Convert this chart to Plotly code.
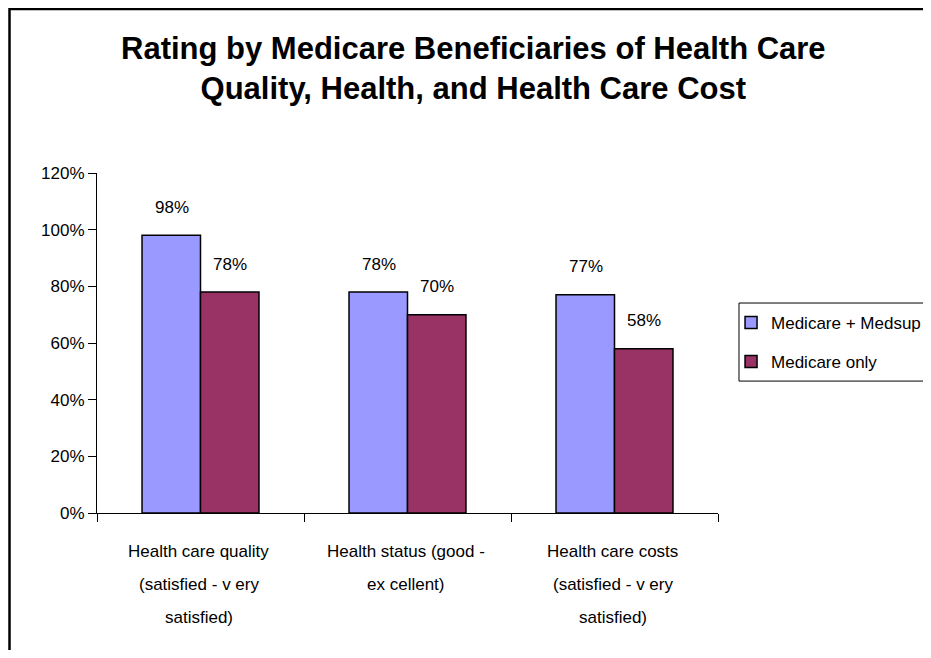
import plotly.graph_objects as go

categories = ["Health care quality", "Health status", "Health care costs"]
category_lines = [
    ["Health care quality", "(satisfied - v ery", "satisfied)"],
    ["Health status (good -", "ex cellent)"],
    ["Health care costs", "(satisfied - v ery", "satisfied)"],
]
series_names = ["Medicare + Medsup", "Medicare only"]
medsup_values = [0.98, 0.78, 0.77]
medicare_only_values = [0.78, 0.70, 0.58]
series_values = [medsup_values, medicare_only_values]
series_colors = ["#9999FF", "#993366"]
y_ticks = [0, 0.2, 0.4, 0.6, 0.8, 1.0, 1.2]
title_text = "Rating by Medicare Beneficiaries of Health Care<br>Quality, Health, and Health Care Cost"

FONT = "Arial, Liberation Sans, sans-serif"

fig = go.Figure()
for i, (name, vals, col) in enumerate(zip(series_names, series_values, series_colors)):
    fig.add_trace(go.Bar(
        x=categories, y=vals, name=name,
        marker=dict(color=col, line=dict(color="black", width=1.5)),
        legendgroup=f"g{i}",
    ))

annotations = []
# title
annotations.append(dict(
    x=0.6055, y=1.306, xref="paper", yref="paper", text=f"<b>{title_text}</b>",
    showarrow=False, xanchor="center", yanchor="middle", align="center",
    font=dict(family=FONT, size=31, color="black"),
))
# data labels
for i, vals in enumerate(series_values):
    shift = -29 if i == 0 else 29
    for c, v in zip(categories, vals):
        annotations.append(dict(
            x=c, y=v, xref="x", yref="y", text=f"{round(v*100):d}%",
            showarrow=False, xshift=shift, yshift=28, yanchor="middle",
            font=dict(family=FONT, size=17, color="black"),
        ))
# category labels (multi-line with wide spacing)
for c, lines in zip(categories, category_lines):
    for j, line in enumerate(lines):
        annotations.append(dict(
            x=c, y=0, xref="x", yref="y", text=line, showarrow=False,
            yshift=-38 - 33 * j, yanchor="middle", xshift=-2,
            font=dict(family=FONT, size=17, color="black"),
        ))

fig.update_layout(
    width=915, height=642,
    margin=dict(l=89, r=205, t=165, b=137, autoexpand=False),
    paper_bgcolor="white", plot_bgcolor="white",
    barmode="group", bargap=0.435, bargroupgap=0,
    showlegend=True,
    legend=dict(
        x=1.021, y=0.612, xanchor="left", yanchor="top", xref="paper", yref="paper",
        bgcolor="rgba(0,0,0,0)", borderwidth=0,
        font=dict(family=FONT, size=17, color="black"),
        traceorder="grouped", tracegroupgap=14,
    ),
    annotations=annotations,
    shapes=[
        # outer chart border
        dict(type="rect", xref="paper", yref="paper", x0=-0.1409, x1=1.6, y0=-0.6, y1=1.482,
             line=dict(color="black", width=2.5), fillcolor="rgba(0,0,0,0)", layer="below"),
        # legend box
        dict(type="rect", xref="paper", yref="paper", x0=1.0338, x1=1.5, y0=0.388, y1=0.6176,
             line=dict(color="black", width=1), fillcolor="rgba(0,0,0,0)"),
    ],
    xaxis=dict(
        showticklabels=False, ticks="outside", ticklen=8, tickcolor="black",
        tickson="boundaries", showline=True, linecolor="black", linewidth=1,
        showgrid=False, zeroline=False,
    ),
    yaxis=dict(
        range=[0, 1.2], tickvals=y_ticks, tickformat=".0%",
        ticks="outside", ticklen=8, tickcolor="black", showline=True,
        linecolor="black", linewidth=1, showgrid=False, zeroline=False,
        tickfont=dict(family=FONT, size=17, color="black"),
    ),
)

fig.write_html("out.html")
